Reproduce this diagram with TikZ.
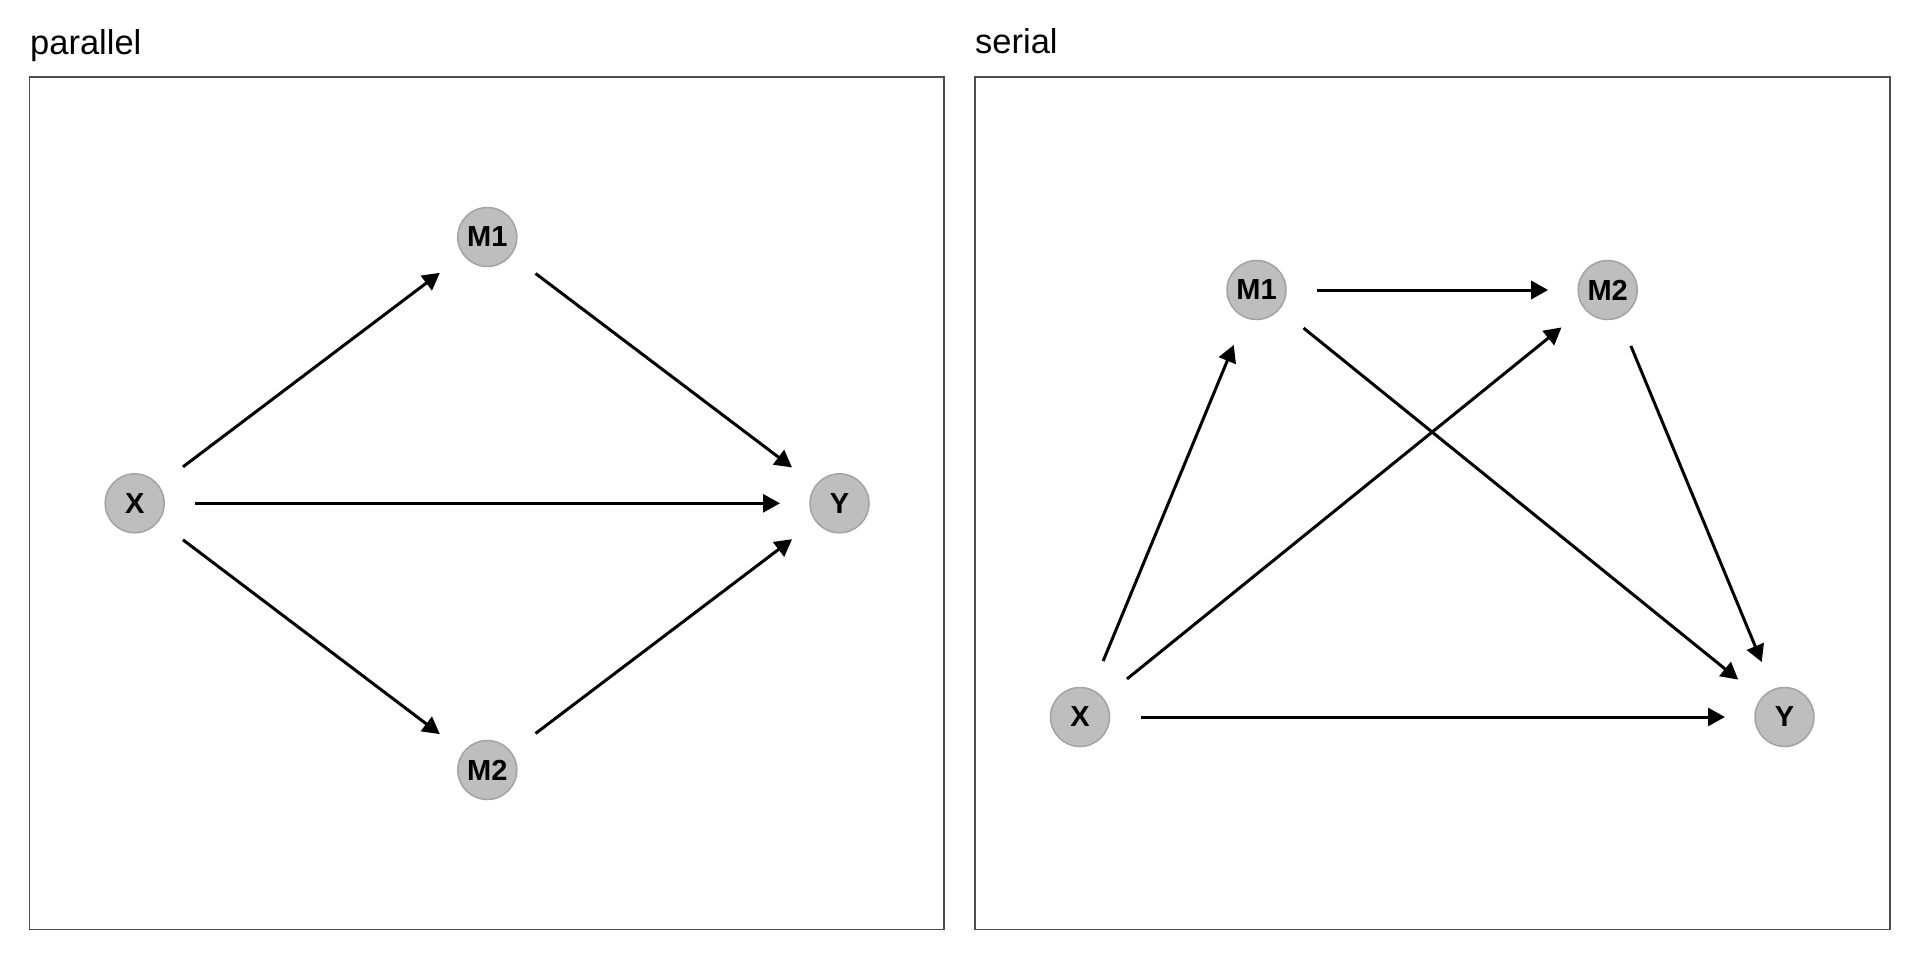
\documentclass[tikz,border=0pt]{standalone}
\usepackage{fontspec}
\setmainfont{Liberation Sans}
\usetikzlibrary{arrows.meta}
\definecolor{nodefill}{HTML}{BEBEBE}
\definecolor{nodeline}{HTML}{A3A3A3}
\definecolor{frameline}{HTML}{4D4D4D}
\tikzset{
  var/.style={circle, fill=nodefill, draw=nodeline, line width=1.5pt, minimum size=59pt, inner sep=0pt, outer sep=0pt, font=\fontsize{29}{32}\selectfont\bfseries},
  edge/.style={line width=3pt, -{Triangle[length=17pt,width=18pt]}, shorten <=31pt, shorten >=30pt},
  panel/.style={draw=frameline, line width=1.5pt},
  paneltitle/.style={anchor=base west, inner sep=0pt, font=\fontsize{34.5}{38}\selectfont}
}
\begin{document}
\begin{tikzpicture}[x=1pt,y=-1pt]
\useasboundingbox (0,0) rectangle (1920,960);
% panels
\draw[panel] (29.4,77) rectangle (944,929.5);
\draw[panel] (975,77) rectangle (1890,929.5);
\node[paneltitle] (t1) at (30,54.5) {parallel};
\node[paneltitle] (t2) at (975,54) {serial};
% parallel
\node[var] (pX) at (134.7,503.3) {X};
\node[var] (pM1) at (487.3,237) {M1};
\node[var] (pM2) at (487.3,770) {M2};
\node[var] (pY) at (839.5,503.3) {Y};
\draw[edge] (pX) -- (pM1);
\draw[edge] (pX) -- (pM2);
\draw[edge] (pX) -- (pY);
\draw[edge] (pM1) -- (pY);
\draw[edge] (pM2) -- (pY);
% serial
\node[var] (sX) at (1080,717) {X};
\node[var] (sM1) at (1256.5,290) {M1};
\node[var] (sM2) at (1607.7,290) {M2};
\node[var] (sY) at (1784.5,717) {Y};
\draw[edge] (sX) -- (sM1);
\draw[edge] (sX) -- (sM2);
\draw[edge] (sX) -- (sY);
\draw[edge] (sM1) -- (sM2);
\draw[edge] (sM1) -- (sY);
\draw[edge] (sM2) -- (sY);
\end{tikzpicture}
\end{document}
